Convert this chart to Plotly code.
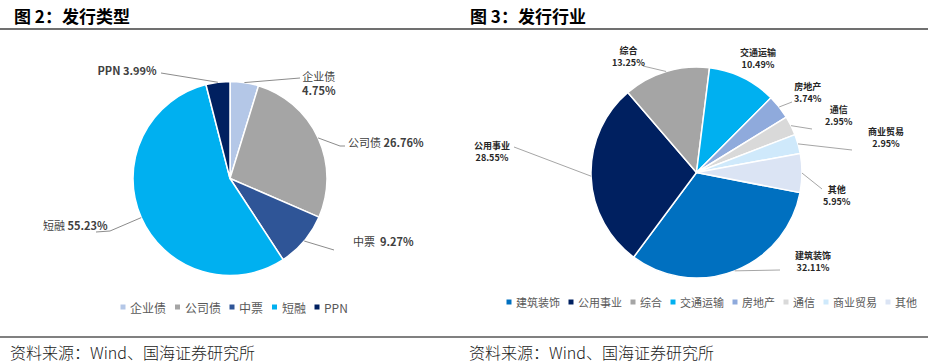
import math
import plotly.graph_objects as go

W, H = 928, 364

# ---------------- data ----------------
type_labels = ["企业债", "公司债", "中票", "短融", "PPN"]
type_values = [4.75, 26.76, 9.27, 55.23, 3.99]
type_colors = ["#b4c7e7", "#a5a5a5", "#2f5597", "#00b0f0", "#002060"]

ind_labels = ["建筑装饰", "公用事业", "综合", "交通运输", "房地产", "通信", "商业贸易", "其他"]
ind_values = [32.11, 28.55, 13.25, 10.49, 3.74, 2.95, 2.95, 5.95]
ind_colors = ["#0070c0", "#002060", "#a5a5a5", "#00b0f0", "#8faadc", "#d9d9d9", "#cfe9fb", "#dbe4f4"]

titles = ["图 2：发行类型", "图 3：发行行业"]
source_text = "资料来源：Wind、国海证券研究所"

# ---------------- layout constants (pixels) ----------------
FONT = "Noto Sans CJK SC"
L_CX, L_CY, L_R, L_ROT = 230, 178.5, 97, 0
R_CX, R_CY, R_R, R_ROT = 696.5, 172.5, 105.5, 101

# label placement: (x, y, anchor, text-side leader point(s))
left_label_pos = {
    "企业债": (319, 83, "center", [(300, 78)]),
    "公司债": (347, 142, "left", [(340, 146), (345, 146)]),
    "中票": (352, 241, "left", [(334, 250)]),
    "短融": (109, 225, "right", [(110, 231), (96, 232)]),
    "PPN": (158, 70, "right", [(161, 73)]),
}
right_label_pos = {
    "建筑装饰": (813, 261, "center", [(780, 270)]),
    "公用事业": (492, 151, "center", [(514, 147)]),
    "综合": (628, 56, "center", [(643, 66)]),
    "交通运输": (758, 59, "center", []),
    "房地产": (808, 92, "center", [(792, 102)]),
    "通信": (839, 115, "center", [(812, 129)]),
    "商业贸易": (886, 137, "center", [(852, 150)]),
    "其他": (837, 195, "center", [(822, 189)]),
}
# legend: first marker x, row y, font size, gap after text (pixels)
LEFT_LEG = (123, 307, 12, 12.5)
RIGHT_LEG = (509, 302, 11, 12)


def px(x, y):
    return x / W, 1 - y / H


def domain(cx, cy, r):
    return dict(x=[(cx - r) / W, (cx + r) / W], y=[1 - (cy + r) / H, 1 - (cy - r) / H])


fig = go.Figure()
fig.add_trace(go.Pie(
    labels=type_labels, values=type_values, sort=False, direction="clockwise",
    rotation=L_ROT, marker=dict(colors=type_colors, line=dict(color="white", width=1.5)),
    textinfo="none", hoverinfo="label+percent", showlegend=False,
    domain=domain(L_CX, L_CY, L_R),
))
fig.add_trace(go.Pie(
    labels=ind_labels, values=ind_values, sort=False, direction="clockwise",
    rotation=R_ROT, marker=dict(colors=ind_colors, line=dict(color="white", width=1.5)),
    textinfo="none", hoverinfo="label+percent", showlegend=False,
    domain=domain(R_CX, R_CY, R_R),
))

annotations = []
shapes = []


def text_ann(x, y, text, anchor="center", size=12, color="#000000", box=200, weight=None):
    ax, ay = px(x, y)
    font = dict(family=FONT, size=size, color=color)
    if weight:
        font["weight"] = weight
    d = dict(x=ax, y=ay, xref="paper", yref="paper", text=text, showarrow=False,
             xanchor=anchor, yanchor="middle", align=anchor, borderpad=0, font=font)
    if anchor != "center":
        d["width"] = box
    annotations.append(d)


def edge_points(values, cx, cy, r, rot):
    total = sum(values)
    cum = 0
    pts = []
    for v in values:
        a = math.radians(rot + 360 * (cum + v / 2) / total)
        pts.append((cx + r * math.sin(a), cy - r * math.cos(a)))
        cum += v
    return pts


def add_leaders(labels, values, pos, cx, cy, r, rot, color):
    for lab, (ex, ey) in zip(labels, edge_points(values, cx, cy, r, rot)):
        chain = [(ex, ey)] + pos[lab][3]
        for (x0, y0), (x1, y1) in zip(chain[:-1], chain[1:]):
            a0, b0 = px(x0, y0)
            a1, b1 = px(x1, y1)
            shapes.append(dict(type="line", xref="paper", yref="paper", x0=a0, y0=b0, x1=a1, y1=b1,
                               line=dict(color=color, width=1)))


add_leaders(type_labels, type_values, left_label_pos, L_CX, L_CY, L_R, L_ROT, "#8c8c8c")
add_leaders(ind_labels, ind_values, right_label_pos, R_CX, R_CY, R_R, R_ROT, "#a6a6a6")

# left labels
for lab, val in zip(type_labels, type_values):
    x, y, anc, _ = left_label_pos[lab]
    if lab == "企业债":
        txt = f"{lab}<br><b>{val:.2f}%</b>"
    elif lab == "中票":
        txt = f"{lab}\u00a0\u00a0<b>{val:.2f}%</b>"
    elif lab == "PPN":
        txt = f"<b>{lab} {val:.2f}%</b>"
    else:
        txt = f"{lab} <b>{val:.2f}%</b>"
    text_ann(x, y, txt, anc, 11, "#404040", 120)

# right labels
for lab, val in zip(ind_labels, ind_values):
    x, y, anc, _ = right_label_pos[lab]
    text_ann(x, y, f"<b>{lab}<br>{val:.2f}%</b>", anc, 9, "#262626")


# legends (small square markers + text)
def add_legend(labels, colors, spec):
    x, y, size, gap = spec
    for lab, col in zip(labels, colors):
        a0, b0 = px(x - 2.5, y - 2.5)
        a1, b1 = px(x + 2.5, y + 2.5)
        shapes.append(dict(type="rect", xref="paper", yref="paper", x0=a0, y0=b0, x1=a1, y1=b1,
                           line=dict(width=0), fillcolor=col))
        text_ann(x + 6, y, lab, "left", size, "#595959", 80)
        x += 6 + len(lab) * size + gap


add_legend(type_labels, type_colors, LEFT_LEG)
add_legend(ind_labels, ind_colors, RIGHT_LEG)

# titles and sources
for i, t in enumerate(titles):
    text_ann(13 + i * 456, 16, f"<b>{t}</b>", "left", 17, "#000000", 300)
    text_ann(9 + i * 459, 352, source_text, "left", 16, "#1a1a1a", 320, weight=300)

# rules
shapes.append(dict(type="line", xref="paper", yref="paper", x0=0, x1=1, y0=px(0, 29)[1], y1=px(0, 29)[1],
                   line=dict(color="#404040", width=1.5)))
shapes.append(dict(type="line", xref="paper", yref="paper", x0=0, x1=1, y0=px(0, 337)[1], y1=px(0, 337)[1],
                   line=dict(color="#808080", width=2)))

fig.update_layout(
    width=W, height=H, margin=dict(l=0, r=0, t=0, b=0),
    paper_bgcolor="white", plot_bgcolor="white",
    annotations=annotations, shapes=shapes, showlegend=False,
)
fig.write_html("out.html", config={"displayModeBar": False},
               post_script="document.body.style.margin='0';document.body.style.overflow='hidden';")
